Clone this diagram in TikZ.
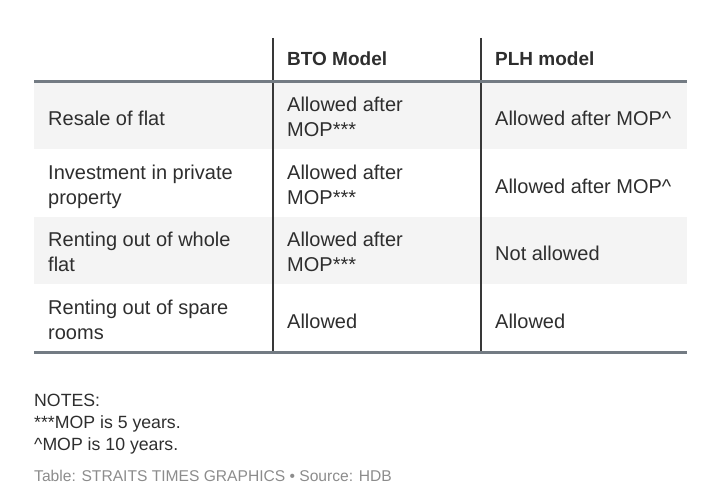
\documentclass[tikz,border=0pt]{standalone}
\usepackage{fontspec}
\setmainfont{Liberation Sans}
\definecolor{txt}{HTML}{2E2E2E}
\definecolor{rulegray}{HTML}{737B83}
\definecolor{vline}{HTML}{383838}
\definecolor{rowshade}{HTML}{F4F4F4}
\definecolor{srcgray}{HTML}{8C8C8C}
\begin{document}
\begin{tikzpicture}[x=1pt,y=-1pt,
  cell/.style={anchor=base west, align=left, inner sep=0pt, text=txt,
    font=\fontsize{20}{25}\selectfont},
  head/.style={anchor=base west, inner sep=0pt, text=txt,
    font=\fontsize{19}{23}\selectfont\bfseries},
  note/.style={anchor=base west, inner sep=0pt, text=txt,
    font=\fontsize{17.7}{22}\selectfont},
  source/.style={anchor=base west, inner sep=0pt, text=srcgray,
    font=\fontsize{15.6}{20}\selectfont},
  thickrule/.style={draw=rulegray, line width=3pt},
  divider/.style={draw=vline, line width=1.8pt}]
\useasboundingbox (0,0) rectangle (720,494);
% row shading
\fill[rowshade] (34,82) rectangle (687,149.5);
\fill[rowshade] (34,217) rectangle (687,284.5);
% coordinates
\coordinate (hl) at (34,82);
\coordinate (hr) at (687,82);
\coordinate (bl) at (34,352);
\coordinate (br) at (687,352);
\coordinate (v1t) at (273,38);
\coordinate (v1b) at (273,352);
\coordinate (v2t) at (481,38);
\coordinate (v2b) at (481,352);
\draw[divider] (v1t) -- (v1b);
\draw[divider] (v2t) -- (v2b);
\draw[thickrule] (hl) -- (hr);
\draw[thickrule] (bl) -- (br);
% header
\node[head] (h2) at (287,66) {BTO Model};
\node[head] (h3) at (495,66) {PLH model};
% row 1
\node[cell] (r1c1) at (48,126) {Resale of flat};
\node[cell] (r1c2) at (287,136.7) {Allowed after\\MOP***};
\node[cell] (r1c3) at (495,126) {Allowed after MOP\^{}};
% row 2
\node[cell] (r2c1) at (48,204.2) {Investment in private\\property};
\node[cell] (r2c2) at (287,204.2) {Allowed after\\MOP***};
\node[cell] (r2c3) at (495,193.5) {Allowed after MOP\^{}};
% row 3
\node[cell] (r3c1) at (48,271.7) {Renting out of whole\\flat};
\node[cell] (r3c2) at (287,271.7) {Allowed after\\MOP***};
\node[cell] (r3c3) at (495,261) {Not allowed};
% row 4
\node[cell] (r4c1) at (48,339.2) {Renting out of spare\\rooms};
\node[cell] (r4c2) at (287,328.5) {Allowed};
\node[cell] (r4c3) at (495,328.5) {Allowed};
% notes
\node[note] (n1) at (34,406) {NOTES:};
\node[note] (n2) at (34,428.5) {***MOP is 5 years.};
\node[note] (n3) at (34,450.5) {\^{}MOP is 10 years.};
\node[source] (s1) at (34,481) {Table: STRAITS TIMES GRAPHICS • Source: HDB};
\end{tikzpicture}
\end{document}
